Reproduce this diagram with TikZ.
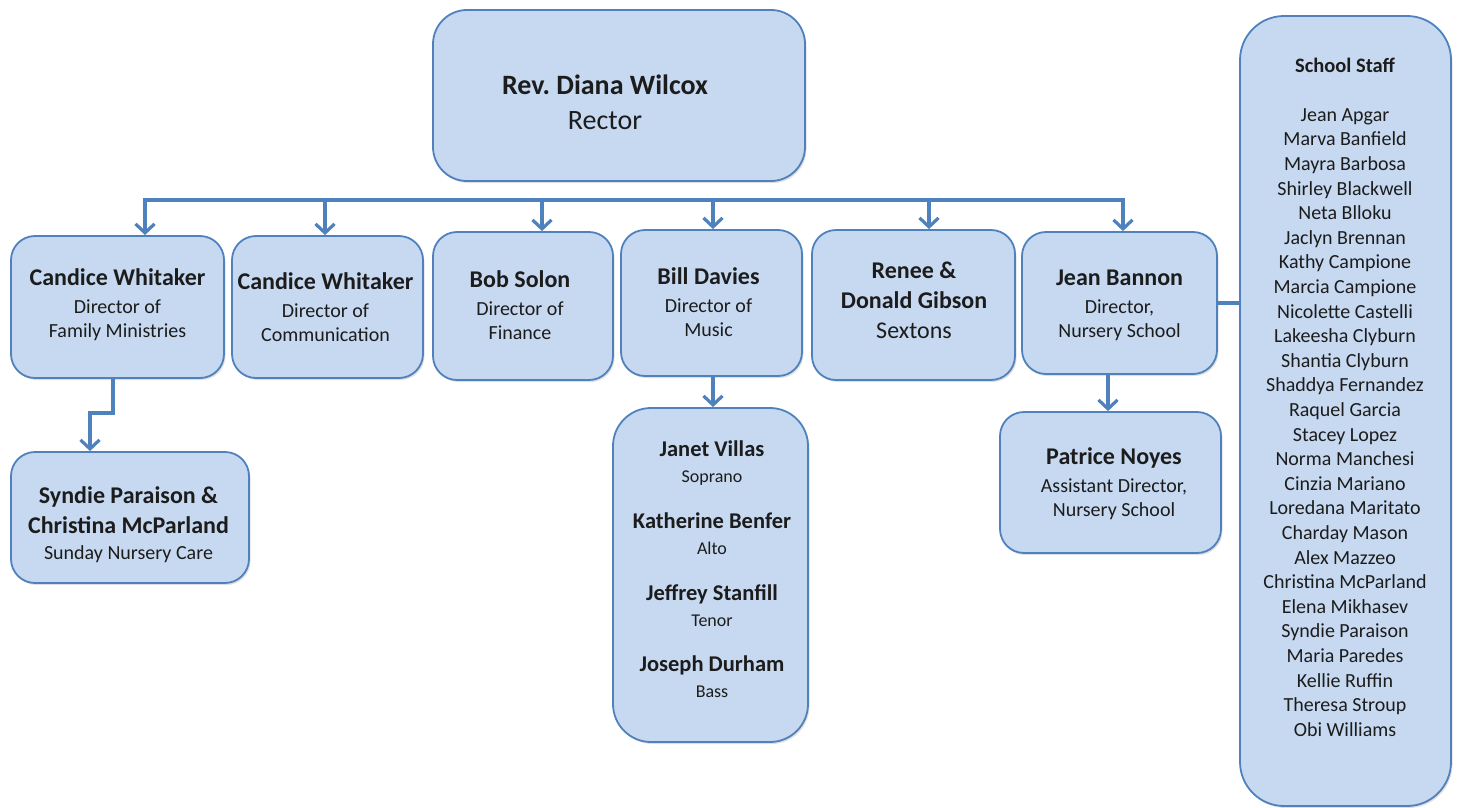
\documentclass[tikz,border=0pt]{standalone}
\usepackage{fontspec}
\setmainfont{Carlito}
\usetikzlibrary{arrows.meta,shadows}
\definecolor{boxfill}{RGB}{198,217,241}
\definecolor{boxline}{RGB}{79,129,189}
\definecolor{txtcol}{RGB}{28,28,28}
\newcommand\nmbig[1]{{\fontsize{24}{24}\selectfont\bfseries #1}}
\newcommand\nmmid[1]{{\fontsize{22.5}{22.5}\selectfont\bfseries #1}}
\newcommand\subsmall[1]{{\fontsize{18}{18}\selectfont #1}}
\begin{document}
\begin{tikzpicture}[x=1pt,y=-1pt,
  box/.style={draw=boxline, fill=boxfill, line width=1.8pt, rounded corners=24pt, inner sep=0pt,
    drop shadow={shadow xshift=1.5pt, shadow yshift=-2pt, opacity=0.25, fill=black!50}},
  txt/.style={align=center, inner sep=0pt, text=txtcol, font=\fontsize{20}{24}\selectfont},
  conn/.style={draw=boxline, line width=3.2pt},
  tip/.tip={Straight Barb[length=9pt,width=19pt]},
  arr/.style={conn, -tip},
]
\useasboundingbox (0,0) rectangle (1461,808);

% boxes
\node[box, rounded corners=34pt, minimum width=372pt, minimum height=171pt] (rector) at (619,95.5) {};
\node[box, minimum width=213pt, minimum height=142pt] (fam) at (117.5,307) {};
\node[box, minimum width=191pt, minimum height=142pt] (com) at (327.5,307) {};
\node[box, minimum width=180pt, minimum height=148pt] (fin) at (523,306) {};
\node[box, minimum width=181pt, minimum height=146pt] (mus) at (711.5,303) {};
\node[box, minimum width=203pt, minimum height=150pt] (sex) at (913.5,305) {};
\node[box, minimum width=195pt, minimum height=142pt] (nur) at (1119.5,303) {};
\node[box, rounded corners=44pt, minimum width=211pt, minimum height=790pt] (staff) at (1345.5,411) {};
\node[box, minimum width=238pt, minimum height=131pt] (syn) at (130,517.5) {};
\node[box, rounded corners=38pt, minimum width=195pt, minimum height=334pt] (choir) at (710.5,575) {};
\node[box, minimum width=221pt, minimum height=141pt] (pat) at (1110.5,482.5) {};

% texts
\node[txt, font=\fontsize{28}{35}\selectfont] (rectort) at (605,102)
  {{\bfseries Rev.\ Diana Wilcox}\\Rector};
\node[txt] (famt) at (117.5,304.5) {\nmbig{Candice Whitaker}\\[4pt]Director of\\Family Ministries};
\node[txt] (comt) at (325.5,307) {\nmbig{Candice Whitaker}\\[4pt]Director of\\Communication};
\node[txt] (fint) at (520,305) {\nmbig{Bob Solon}\\[4pt]Director of\\Finance};
\node[txt] (must) at (708.5,302.5) {\nmbig{Bill Davies}\\[4pt]Director of\\Music};
\node[txt, font=\fontsize{24}{30}\selectfont] (sext) at (914,300.5)
  {\nmbig{Renee \&}\\\nmbig{Donald Gibson}\\Sextons};
\node[txt] (nurt) at (1119.5,305) {\nmbig{Jean Bannon}\\[4pt]Director,\\Nursery School};
\node[txt] (synt) at (128.5,525) {\nmbig{Syndie Paraison \&}\\[6pt]\nmbig{Christina McParland}\\[2pt]Sunday Nursery Care};
\node[txt] (patt) at (1114,484) {\nmbig{Patrice Noyes}\\[4pt]Assistant Director,\\Nursery School};

\node[txt] (c1) at (712,463) {\nmmid{Janet Villas}\\[2pt]\subsmall{Soprano}};
\node[txt] (c2) at (712,533.5) {\nmmid{Katherine Benfer}\\[2pt]\subsmall{Alto}};
\node[txt] (c3) at (712,605.5) {\nmmid{Jeffrey Stanfill}\\[2pt]\subsmall{Tenor}};
\node[txt] (c4) at (712,676.5) {\nmmid{Joseph Durham}\\[2pt]\subsmall{Bass}};

\node[txt, font=\fontsize{20}{24.6}\selectfont] (stafft) at (1345,397)
  {{\fontsize{20.5}{20.5}\selectfont\bfseries School Staff}\\[24.6pt]
   Jean Apgar\\Marva Banfield\\Mayra Barbosa\\Shirley Blackwell\\Neta Blloku\\
   Jaclyn Brennan\\Kathy Campione\\Marcia Campione\\Nicolette Castelli\\
   Lakeesha Clyburn\\Shantia Clyburn\\Shaddya Fernandez\\Raquel Garcia\\
   Stacey Lopez\\Norma Manchesi\\Cinzia Mariano\\Loredana Maritato\\
   Charday Mason\\Alex Mazzeo\\Christina McParland\\Elena Mikhasev\\
   Syndie Paraison\\Maria Paredes\\Kellie Ruffin\\Theresa Stroup\\Obi Williams};

% connectors
\coordinate (busL) at (145,200);
\coordinate (busR) at (1123,200);
\coordinate (bus2) at (325,200);
\coordinate (bus3) at (542,200);
\coordinate (bus4) at (713,200);
\coordinate (bus5) at (929,200);
\draw[conn, tip-tip, line join=miter] (busL |- fam.north) -- (busL) -- (busR) -- (busR |- nur.north);
\draw[arr] (bus2) -- (bus2 |- com.north);
\draw[arr] (bus3) -- (bus3 |- fin.north);
\draw[arr] (bus4) -- (bus4 |- mus.north);
\draw[arr] (bus5) -- (bus5 |- sex.north);

\coordinate (k1) at (113,413);
\coordinate (k2) at (90,413);
\draw[arr, line join=miter] (k1 |- fam.south) -- (k1) -- (k2) -- (k2 |- syn.north);

\coordinate (mc) at (713,392);
\draw[arr] (mc |- mus.south) -- (mc |- choir.north);
\coordinate (pc) at (1108,392);
\draw[arr] (pc |- nur.south) -- (pc |- pat.north);

\draw[conn] (nur.east) -- (nur.east -| staff.west);
\end{tikzpicture}
\end{document}
